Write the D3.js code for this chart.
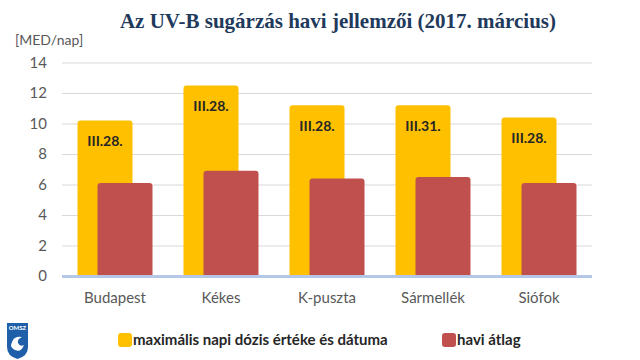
<!DOCTYPE html>
<html><head><meta charset="utf-8">
<script src="https://cdn.jsdelivr.net/npm/d3@7/dist/d3.min.js"></script>
<style>body{margin:0;background:#fff}svg{display:block}</style>
</head><body>
<script>
const categories = ["Budapest", "Kékes", "K-puszta", "Sármellék", "Siófok"];
const maxValues = [10.2, 12.5, 11.2, 11.2, 10.4];
const maxDates = ["III.28.", "III.28.", "III.28.", "III.31.", "III.28."];
const avgValues = [6.1, 6.9, 6.4, 6.5, 6.1];
const yTicks = [0, 2, 4, 6, 8, 10, 12, 14];
const seriesNames = ["maximális napi dózis értéke és dátuma", "havi átlag"];
const colors = ["#FFC000", "#C0504D"];

const W = 640, H = 360;
const svg = d3.select("body").append("svg").attr("width", W).attr("height", H);

const x = d3.scaleBand().domain(categories).range([62, 592]).paddingInner(0).paddingOuter(0);
const y = d3.scaleLinear().domain([0, 14]).range([276, 62.5]);

// title
svg.append("text").attr("x", 338).attr("y", 28).attr("text-anchor", "middle")
  .attr("font-family", "Liberation Serif, serif").attr("font-weight", "bold")
  .attr("font-size", 21).attr("fill", "#1F3A5C").text("Az UV-B sugárzás havi jellemzői (2017. március)");

svg.append("text").attr("x", 15).attr("y", 45)
  .attr("font-family", "Lato, sans-serif").attr("font-size", 14).attr("fill", "#595959").text("[MED/nap]");

// grid
const yAxis = d3.axisLeft(y).tickValues(yTicks).tickSize(-(592 - 62)).tickPadding(15).tickFormat(d3.format("d"));
const gy = svg.append("g").attr("transform", "translate(62,0)").call(yAxis);
gy.select(".domain").remove();
gy.selectAll(".tick line").attr("stroke", "#D9D9D9").attr("stroke-width", 1);
gy.selectAll(".tick text").attr("font-family", "Lato, sans-serif").attr("font-size", 15).attr("fill", "#595959");

function topRounded(x0, y0, w, h, r) {
  return `M${x0},${y0 + h} L${x0},${y0 + r} Q${x0},${y0} ${x0 + r},${y0} L${x0 + w - r},${y0} Q${x0 + w},${y0} ${x0 + w},${y0 + r} L${x0 + w},${y0 + h} Z`;
}

const bw = x.bandwidth();
const barW = 55;
const groupW = 75;
const off = (bw - groupW) / 2;

// max bars
svg.append("g").selectAll("path").data(categories).join("path")
  .attr("d", (c, i) => topRounded(x(c) + off, y(maxValues[i]), barW, y(0) - y(maxValues[i]), 3))
  .attr("fill", colors[0]);

// date labels
svg.append("g").selectAll("text").data(categories).join("text")
  .attr("x", c => x(c) + off + barW / 2)
  .attr("y", (c, i) => y(maxValues[i]) + 26)
  .attr("text-anchor", "middle").attr("font-family", "Lato, sans-serif").attr("font-weight", "bold")
  .attr("font-size", 14).attr("fill", "#262626").text((c, i) => maxDates[i]);

// avg bars
svg.append("g").selectAll("path").data(categories).join("path")
  .attr("d", (c, i) => topRounded(x(c) + off + 20, y(avgValues[i]), barW, y(0) - y(avgValues[i]), 3))
  .attr("fill", colors[1]);

// baseline axis
svg.append("line").attr("x1", 62).attr("x2", 592).attr("y1", y(0) + 0.5).attr("y2", y(0) + 0.5)
  .attr("stroke", "#B4C7E7").attr("stroke-width", 3);

// x labels
const xAxis = d3.axisBottom(x).tickSize(0).tickPadding(16);
const gx = svg.append("g").attr("transform", `translate(0,${y(0)})`).call(xAxis);
gx.select(".domain").remove();
gx.selectAll(".tick text").attr("font-family", "Lato, sans-serif").attr("font-size", 15).attr("fill", "#595959");

// legend
const legend = svg.append("g");
const legX = [118, 442];
seriesNames.forEach((n, i) => {
  legend.append("rect").attr("x", legX[i]).attr("y", 333).attr("width", 14).attr("height", 14)
    .attr("rx", 3).attr("fill", colors[i]);
  legend.append("text").attr("x", legX[i] + 15).attr("y", 345)
    .attr("font-family", "Lato, sans-serif").attr("font-weight", "bold").attr("font-size", 15)
    .attr("fill", "#262626").text(n);
});

// logo
const logo = svg.append("g").attr("transform", "translate(7,323)");
logo.append("path").attr("d", "M0,0 L21,0 L21,24 Q21,33 10.5,36 Q0,33 0,24 Z").attr("fill", "#1F5FAA");
logo.append("text").attr("x", 10.5).attr("y", 7).attr("text-anchor", "middle")
  .attr("font-family", "Lato, sans-serif").attr("font-weight", "bold").attr("font-size", 6).attr("fill", "#fff").text("OMSZ");
logo.append("path").attr("d", "M4,22 Q6,12 15,14 Q10,16 11,20 Q13,24 17,22 Q14,30 8,27 Q4,25 4,22 Z").attr("fill", "#fff");
</script>
</body></html>
